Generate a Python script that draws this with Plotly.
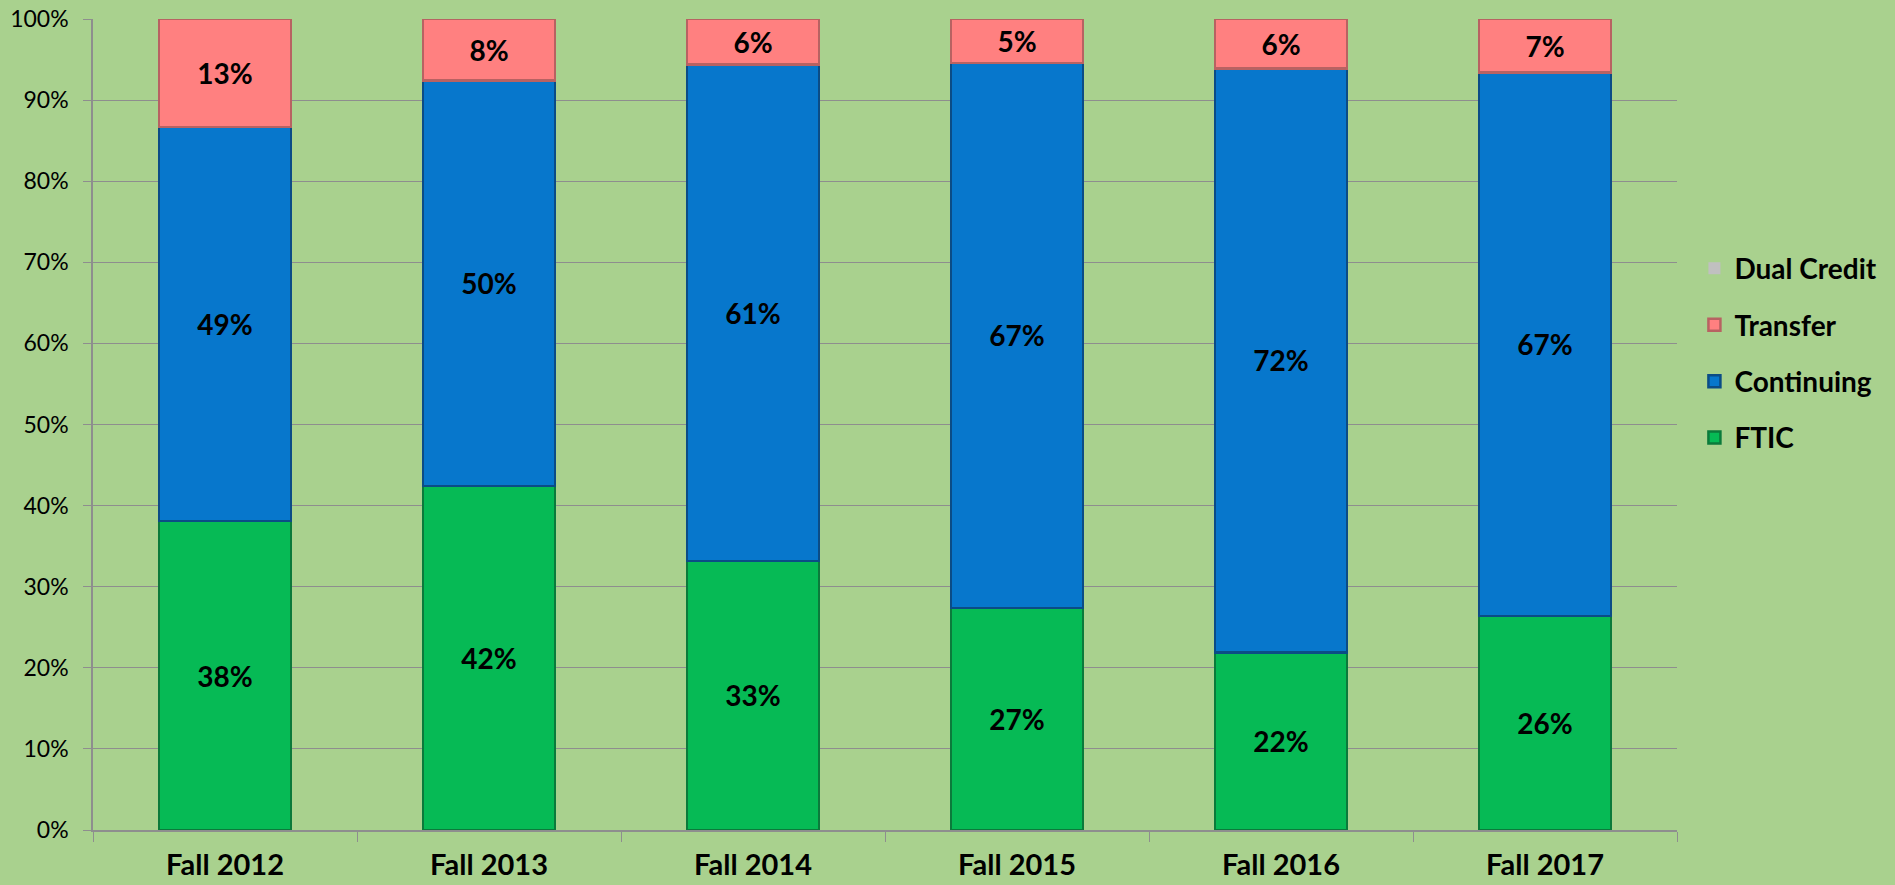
import plotly.graph_objects as go

categories = ["Fall 2012", "Fall 2013", "Fall 2014", "Fall 2015", "Fall 2016", "Fall 2017"]
ftic = [38.1, 42.4, 33.2, 27.4, 21.9, 26.4]
continuing = [48.6, 50.0, 61.2, 67.2, 72.0, 67.0]
transfer = [13.3, 7.6, 5.6, 5.4, 6.1, 6.6]
dual_credit = [0, 0, 0, 0, 0, 0]

series = [
    ("FTIC", ftic, "#06BA55", "#0B7A3B", 4),
    ("Continuing", continuing, "#0777CC", "#0B4C86", 3),
    ("Transfer", transfer, "#FF8080", "#B86262", 2),
]

fig = go.Figure()
for name, vals, col, edge, rank in series:
    fig.add_trace(go.Bar(
        x=categories, y=vals, name=name,
        marker=dict(color=col, line=dict(color=edge, width=2.5)),
        text=[f"{round(v)}%" for v in vals],
        textposition="inside", insidetextanchor="middle",
        textfont=dict(family="Lato", size=28, color="black", weight="bold"),
        legendgroup=name, legendrank=rank,
        hoverinfo="skip",
    ))
fig.add_trace(go.Bar(
    x=categories, y=dual_credit, name="Dual Credit",
    marker=dict(color="#C0C0C0", line=dict(width=0)),
    legendgroup="Dual Credit", legendrank=1, hoverinfo="skip",
))

fig.update_layout(
    barmode="stack",
    bargap=0.5,
    width=1895, height=885,
    margin=dict(l=93, r=218, t=19, b=55, autoexpand=False),
    paper_bgcolor="#A9D18E",
    plot_bgcolor="#A9D18E",
    uniformtext=dict(minsize=28, mode="show"),
    font=dict(family="Lato", color="black"),
    legend=dict(
        x=1.011, xanchor="left", y=0.588, yanchor="middle",
        traceorder="grouped", tracegroupgap=17,
        font=dict(family="Lato", size=28, color="black", weight="bold"),
        bgcolor="rgba(0,0,0,0)",
        itemwidth=30,
    ),
    showlegend=True,
)
fig.update_yaxes(
    range=[0, 100], dtick=10, ticksuffix="%", automargin=False,
    showgrid=True, gridcolor="#8E8E8E", gridwidth=1,
    showline=True, linecolor="#8E8E8E", linewidth=1.5,
    ticks="outside", ticklen=8, tickcolor="#8E8E8E",
    ticklabelstandoff=10,
    tickfont=dict(family="Lato", size=23, color="black"),
    zeroline=False,
)
fig.update_xaxes(
    automargin=False,
    showline=True, linecolor="#8E8E8E", linewidth=1.5,
    ticks="outside", ticklen=10, tickcolor="#8E8E8E", tickson="boundaries",
    ticklabelstandoff=8,
    tickfont=dict(family="Lato", size=29, color="black", weight="bold"),
    showgrid=False,
)

fig.write_html("out.html", config={"displayModeBar": False},
               post_script="document.body.style.margin='0';")
